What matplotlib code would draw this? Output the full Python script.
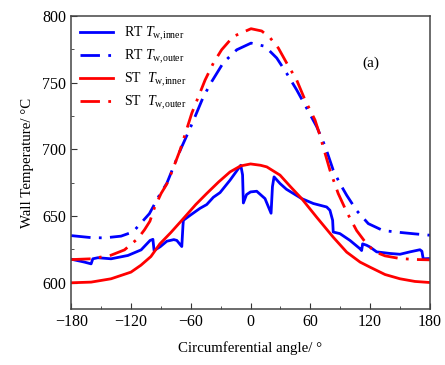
import matplotlib
matplotlib.use("Agg")
import matplotlib.pyplot as plt
from matplotlib.ticker import MultipleLocator

plt.rcParams['font.family'] = 'Liberation Serif'
plt.rcParams['mathtext.fontset'] = 'custom'
plt.rcParams['mathtext.rm'] = 'Liberation Serif'
plt.rcParams['mathtext.it'] = 'Liberation Serif:italic'

# RT inner wall temperature (blue solid)
rt_in_x = [-180, -166.6, -160, -158.3, -153.2, -140, -123.1, -109.8, -100.8, -98, -96.8, -90.6, -84,
           -77, -74, -69, -67.8, -67.4, -60.7, -50.7, -44, -37.3, -30.6, -20.6, -9.8, -8, -7.2, -4,
           0, 6.2, 14.5, 20.6, 22, 23.6, 29.6, 36, 43, 51.3, 63, 76.4, 79.7, 82.4, 83, 89.7, 99.8,
           109.8, 111.5, 112.5, 116.4, 120, 126.6, 140, 150, 160, 170, 172, 173.3, 180]
rt_in_y = [617.5, 615.3, 614, 617.8, 618.6, 617.8, 620.3, 624.5, 631.6, 632.4, 624, 626.9, 631,
           632.2, 631.6, 627, 643, 646.7, 650.4, 655.7, 658.5, 664, 667.5, 676.8, 688, 680.8, 659.7, 666,
           668, 668.5, 663, 652, 672, 679.3, 674.3, 670, 666.8, 663, 659.3, 656.7, 654.2, 646.7, 637.9,
           636.7, 631.6, 625.4, 624, 629, 628, 626.6, 623, 621.8, 621.2, 623, 624.6, 623.5, 617.8, 618]

# RT outer wall temperature (blue dash-dot)
rt_out_x = [-180, -160, -146.6, -130, -118, -109, -101.5, -91.5, -84, -70.5, -60.7, -55.7, -47.3,
            -38.9, -27.3, -13.8, 0.5, 14.5, 26.3, 36.3, 46.3, 56.4, 66.4, 75, 83, 89.7, 96.5, 106.5,
            118.2, 133, 150, 165, 180]
rt_out_y = [635.2, 633.7, 633.5, 634.8, 638, 645.4, 651.7, 665.5, 674.5, 699.4, 715.7, 724.5, 739.5,
            750.9, 765, 774.7, 779.7, 777.3, 768.5, 757, 744.6, 730.8, 717, 702, 684.3, 674.3, 665.5, 654,
            644.2, 639, 637.6, 636.5, 635.5]

# ST inner wall temperature (red solid)
st_in_x = [-180, -160, -140, -120, -110, -100, -91, -80, -67.4, -55, -44, -32, -20.6, -10, 0,
           10, 16.3, 29.6, 40, 51.3, 66.4, 83, 96.5, 110, 120, 135, 150, 165, 180]
st_in_y = [599.8, 600.3, 602.8, 607.8, 613, 619.5, 629, 637.5, 648, 658.5, 666.8, 675.5, 683, 687.5, 689,
           688, 686.8, 680.6, 672, 663, 649, 634, 622.8, 615.3, 611.5, 606, 602.8, 600.8, 600]

# ST outer wall temperature (red dash-dot)
st_out_x = [-180, -160, -140, -126.5, -113.1, -106.5, -101, -96.5, -89.8, -84, -79.7, -70.7, -59,
            -52.3, -45.6, -37.3, -29, -17.3, 0.5, 11.2, 19.5, 27.9, 36.3, 46.3, 54.7, 64.7, 69,
            79.7, 88, 96.5, 106.5, 116.5, 125, 135, 150, 165, 180]
st_out_y = [617.2, 617.8, 620.5, 624.5, 633, 639.5, 646, 656, 666.8, 674, 681.8, 699.4, 727,
            739.5, 752, 764.7, 774.7, 784.7, 790.5, 788.8, 783.8, 776, 764.7, 752, 737, 722, 712,
            684.3, 666.8, 653, 639, 629, 623, 620, 618, 617.3, 617]

blue = '#0000ff'
red = '#ff0000'
dd = (0, (7, 3, 1, 3))

fig = plt.figure(figsize=(4.45, 3.65), dpi=100)
ax = fig.add_axes([0.16, 0.153, 0.806, 0.803])

ax.plot(rt_in_x, rt_in_y, color=blue, lw=2, label=r'RT $T_{\mathrm{w{,}inner}}$')
ax.plot(rt_out_x, rt_out_y, color=blue, lw=2, linestyle=dd, label=r'RT $T_{\mathrm{w{,}outer}}$')
ax.plot(st_in_x, st_in_y, color=red, lw=2, label=r'ST  $T_{\mathrm{w{,}inner}}$')
ax.plot(st_out_x, st_out_y, color=red, lw=2, linestyle=dd, label=r'ST  $T_{\mathrm{w{,}outer}}$')

ax.set_xlim(-180, 180)
ax.set_ylim(580, 800)
ax.xaxis.set_major_locator(MultipleLocator(60))
ax.xaxis.set_minor_locator(MultipleLocator(30))
ax.yaxis.set_major_locator(MultipleLocator(50))
ax.yaxis.set_minor_locator(MultipleLocator(25))
ax.tick_params(which='both', direction='in', labelsize=11.5, color='#333333')
ax.tick_params(which='major', length=4)
ax.tick_params(which='minor', length=2.5)
for s in ax.spines.values():
    s.set_color('#444444')
    s.set_linewidth(1.1)

ax.set_xlabel('Circumferential angle/ °', fontsize=10.7, labelpad=8)
ax.set_ylabel('Wall Temperature/ °C', fontsize=10.7, labelpad=6)
ax.text(112, 762, '(a)', fontsize=11)

ax.legend(loc='upper left', frameon=False, fontsize=10, handlelength=2.4,
          borderaxespad=0.2, labelspacing=0.35)

fig.savefig('out.png', dpi=100)
